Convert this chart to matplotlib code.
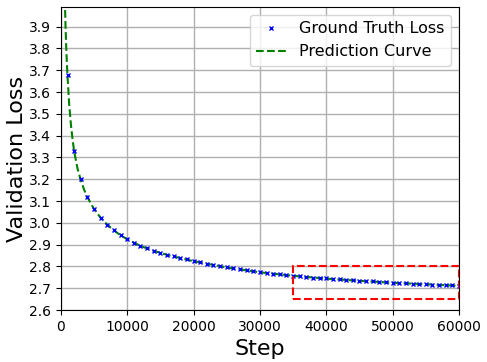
import matplotlib
matplotlib.use("Agg")
import matplotlib.pyplot as plt
import numpy as np
from matplotlib.patches import Rectangle

steps = list(range(1000, 61000, 1000))
gt_loss = [3.677, 3.328, 3.199, 3.117, 3.063, 3.023, 2.991, 2.967, 2.944, 2.924,
           2.909, 2.893, 2.883, 2.872, 2.862, 2.853, 2.846, 2.839, 2.832, 2.825,
           2.819, 2.813, 2.807, 2.801, 2.796, 2.791, 2.787, 2.782, 2.778, 2.774,
           2.770, 2.767, 2.764, 2.761, 2.758, 2.755, 2.752, 2.749, 2.747, 2.745,
           2.743, 2.741, 2.739, 2.737, 2.735, 2.733, 2.731, 2.729, 2.727, 2.725,
           2.724, 2.722, 2.721, 2.720, 2.718, 2.717, 2.716, 2.715, 2.714, 2.712]

pred_steps = [550, 600, 700, 800, 900, 1000, 1250, 1500, 1750, 2000, 2500, 3000,
              3500, 4000, 5000, 6000, 7000, 8000, 9000, 10000, 12000, 14000,
              16000, 18000, 20000, 25000, 30000, 35000, 40000, 45000, 50000,
              55000, 60000]
pred_loss = [4.10, 4.02, 3.905, 3.81, 3.735, 3.675, 3.545, 3.455, 3.385, 3.328,
             3.250, 3.196, 3.152, 3.117, 3.063, 3.023, 2.991, 2.965, 2.943, 2.924,
             2.894, 2.871, 2.853, 2.838, 2.824, 2.795, 2.773, 2.757, 2.744, 2.734,
             2.725, 2.718, 2.711]

box_x = (35000, 60000)
box_y = (2.65, 2.80)

fig = plt.figure(figsize=(4.87, 3.62), dpi=100)
ax = fig.add_axes([0.125, 0.1436, 0.8175, 0.837])

ax.plot(pred_steps, pred_loss, linestyle='--', color='green', lw=1.5,
        label='Prediction Curve', zorder=2)
ax.plot(steps, gt_loss, linestyle='none', marker='x', color='blue', ms=3.5,
        mew=1.0, label='Ground Truth Loss', zorder=3)

ax.add_patch(Rectangle((box_x[0], box_y[0]), box_x[1] - box_x[0], box_y[1] - box_y[0],
                       fill=False, edgecolor='red', linestyle='--', lw=1.5, zorder=4))

ax.set_xlim(0, 60000)
ax.set_ylim(2.6, 3.99)
ax.set_xticks(range(0, 60001, 10000))
ax.set_yticks(np.round(np.arange(2.6, 3.91, 0.1), 1))
ax.tick_params(labelsize=10)
ax.grid(True, color='#b0b0b0', lw=1)
ax.set_axisbelow(True)
ax.set_xlabel('Step', fontsize=16)
ax.set_ylabel('Validation Loss', fontsize=16, labelpad=1.5)

handles, labels = ax.get_legend_handles_labels()
ax.legend([handles[1], handles[0]], [labels[1], labels[0]], loc='upper right',
          fontsize=11.5, handlelength=1.9, markerscale=0.8)

fig.savefig('out.png', dpi=100)
